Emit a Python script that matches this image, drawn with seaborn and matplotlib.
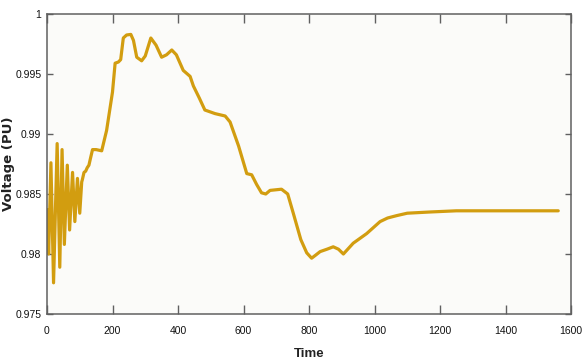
import matplotlib
matplotlib.use("Agg")
import matplotlib.pyplot as plt
import seaborn as sns
import pandas as pd
from matplotlib.ticker import FuncFormatter

# ---- data ----
time = [0, 1, 5, 12, 20, 31, 39, 46, 53, 62, 69, 78, 85, 93, 100, 106,
        108, 113, 118, 123, 128, 133, 139, 150, 167, 182, 200, 208, 218, 225,
        233, 243, 256, 264, 274, 289, 300, 317, 333, 350, 365, 381, 395, 416,
        437, 447, 465, 482, 513, 544, 559, 585, 610, 625, 640, 655, 668, 681,
        716, 735, 752, 775, 793, 808, 820, 834, 855, 874, 890, 905, 935, 976,
        1017, 1040, 1068, 1100, 1169, 1250, 1322, 1450, 1561]
voltage = [0.9828, 0.9837, 0.9800, 0.9876, 0.9776, 0.9892, 0.9789, 0.9887, 0.9808, 0.9874,
           0.9820, 0.9868, 0.9827, 0.9863, 0.9834, 0.9860,
           0.9862, 0.9868, 0.9869, 0.9872, 0.9874, 0.9880, 0.9887, 0.9887, 0.9886, 0.9903,
           0.9935, 0.9959, 0.9960, 0.9962,
           0.9980, 0.99825, 0.99830, 0.9978, 0.9964, 0.9961, 0.9965, 0.9980, 0.9974, 0.9964,
           0.9966, 0.9970, 0.9966, 0.9953,
           0.9948, 0.9940, 0.9930, 0.9920, 0.9917, 0.9915, 0.9910, 0.9890, 0.9867, 0.9866,
           0.9858, 0.9851, 0.9850, 0.9853,
           0.9854, 0.9850, 0.9834, 0.9812, 0.9801, 0.97965, 0.9799, 0.9802, 0.9804, 0.9806,
           0.9804, 0.9800, 0.9809, 0.9817,
           0.9827, 0.9830, 0.9832, 0.9834, 0.9835, 0.9836, 0.9836, 0.9836, 0.9836]

x_ticks = [0, 200, 400, 600, 800, 1000, 1200, 1400, 1600]
y_ticks = [0.975, 0.98, 0.985, 0.99, 0.995, 1.0]
x_label = "Time"
y_label = "Voltage (PU)"

df = pd.DataFrame({"Time": time, "Voltage": voltage})

sns.set_theme(style="ticks")
plt.rcParams["font.family"] = ["Liberation Sans", "DejaVu Sans"]

fig = plt.figure(figsize=(5.85, 3.62), dpi=100)
fig.patch.set_facecolor("white")
ax = fig.add_axes([47 / 585, 1 - 314 / 362, (571 - 47) / 585, (314 - 14) / 362])
ax.set_facecolor("#fbfbf9")

sns.lineplot(data=df, x="Time", y="Voltage", ax=ax, color="#d29d10",
             linewidth=2.3, sort=False, estimator=None)

ax.set_xlim(0, 1600)
ax.set_ylim(0.975, 1.0)
ax.set_xticks(x_ticks)
ax.set_yticks(y_ticks)
ax.yaxis.set_major_formatter(FuncFormatter(lambda v, p: f"{v:g}"))

for s in ax.spines.values():
    s.set_visible(True)
    s.set_color("#606060")
    s.set_linewidth(1.1)

ax.tick_params(axis="x", direction="in", length=6.5, width=1.0, color="#606060",
               top=True, bottom=True, labelsize=7.5, pad=9, labelcolor="#111111")
ax.tick_params(axis="y", direction="in", length=4.5, width=1.0, color="#606060",
               left=True, right=True, labelsize=7.5, pad=4, labelcolor="#111111")

ax.set_xlabel(x_label, fontsize=9.5, fontweight="bold", labelpad=8, color="#222222")
ax.set_ylabel(y_label, fontsize=9.5, fontweight="bold",
              family=["DejaVu Sans"], color="#222222")
ax.yaxis.set_label_coords(-0.061, 0.5)

fig.savefig("out.png", dpi=100, facecolor="white")
